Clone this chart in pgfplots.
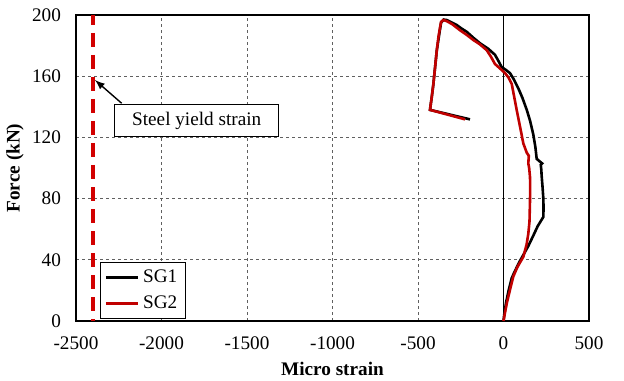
\documentclass[border=0pt]{standalone}
\usepackage{fontspec}
\setmainfont{Liberation Serif}
\usepackage{pgfplots}
\pgfplotsset{compat=1.18}
\definecolor{sgred}{RGB}{192,0,0}
\definecolor{yred}{RGB}{210,0,0}
\begin{document}
\begin{tikzpicture}[font=\fontsize{9.6}{11.5}\selectfont]
\begin{axis}[
  at={(0,0)}, anchor=south west,
  scale only axis, width=256.5pt, height=153pt,
  xmin=-2500, xmax=500, ymin=0, ymax=200,
  xtick={-2500,-2000,...,500}, ytick={0,40,...,200},
  /pgf/number format/assume math mode=true,
  /pgf/number format/1000 sep={},
  major tick length=0pt,
  axis line style={line width=0.6pt},
  grid=major,
  major grid style={gray!75!black, line width=0.5pt, dash pattern=on 1.5pt off 1.5pt},
  xticklabel style={yshift=-4.5pt},
  yticklabel style={xshift=-4pt},
  xlabel={\bfseries Micro strain},
  ylabel={\bfseries Force (kN)},
  xlabel style={at={(axis description cs:0.5,-0.157)}, anchor=center},
  ylabel style={at={(axis description cs:-0.119,0.5)}, anchor=center},
  legend style={at={(0.047,0.008)}, anchor=south west, draw=black, line width=0.5pt,
    inner xsep=2pt, inner ysep=1.5pt, row sep=1pt, cells={anchor=west}},
  legend image code/.code={\draw[#1] (0pt,0pt) -- (16pt,0pt);},
  clip=false,
]
% zero line
\addplot[black, line width=0.5pt, forget plot] coordinates {(0,0) (0,200)};
% yield line
\addplot[yred, line width=1.8pt, dash pattern=on 7pt off 4pt, dash phase=2pt, forget plot] coordinates {(-2400,200) (-2400,0)};
\addplot[black, line width=1.3pt] coordinates {
(0,0) (5,5) (15,12) (30,20) (48,28) (60,31) (90,38) (120,44) (145,49) (175,56) (200,62) (233,68)
(234,74) (233,80) (228,88) (223,95) (221,99) (218,102) (226,103) (215,104) (194,106) (186,114)
(174,122) (155,131) (136,138) (110,146) (87,152) (60,158) (38,162) (15,164) (-11,166) (-30,170)
(-50,174) (-90,178) (-137,181.5) (-175,185) (-215,189) (-250,191.5) (-274,193.5) (-310,195.5)
(-332,196.7) (-350,197) (-365,195) (-375,188) (-390,177) (-400,166) (-410,155) (-420,146) (-430,138) (-196,131.8)
};
\addlegendentry{SG1}
\addplot[sgred, line width=1.3pt] coordinates {
(0,0) (8,5) (20,12) (35,19) (57,29) (80,35) (116,42) (135,50) (145,57) (152,65) (155,79) (156,88)
(155,94) (150,100) (145,103) (148,108) (136,110) (116,116) (95,128) (77,138) (60,148) (48,155)
(30,159) (9,162) (-20,165) (-50,168) (-75,173) (-98,177) (-140,181) (-176,183.6) (-215,187)
(-254,190) (-300,194) (-332,196) (-352,196.7) (-365,195.5) (-371,192) (-380,186) (-390,177)
(-400,166) (-410,155) (-420,146) (-430,138) (-225,131.8)
};
\addlegendentry{SG2}
\draw[-latex, line width=0.7pt] (axis cs:-2233,142.3) -- (axis cs:-2389,157.5);
\node[draw=black, line width=0.5pt, fill=white, minimum width=82pt, minimum height=16pt, inner sep=0pt]
  at (axis cs:-1794,131) {Steel yield strain};
\end{axis}
\pgfresetboundingbox
\path (-38pt,-29.5pt) rectangle (274pt,160.5pt);
\end{tikzpicture}
\end{document}
